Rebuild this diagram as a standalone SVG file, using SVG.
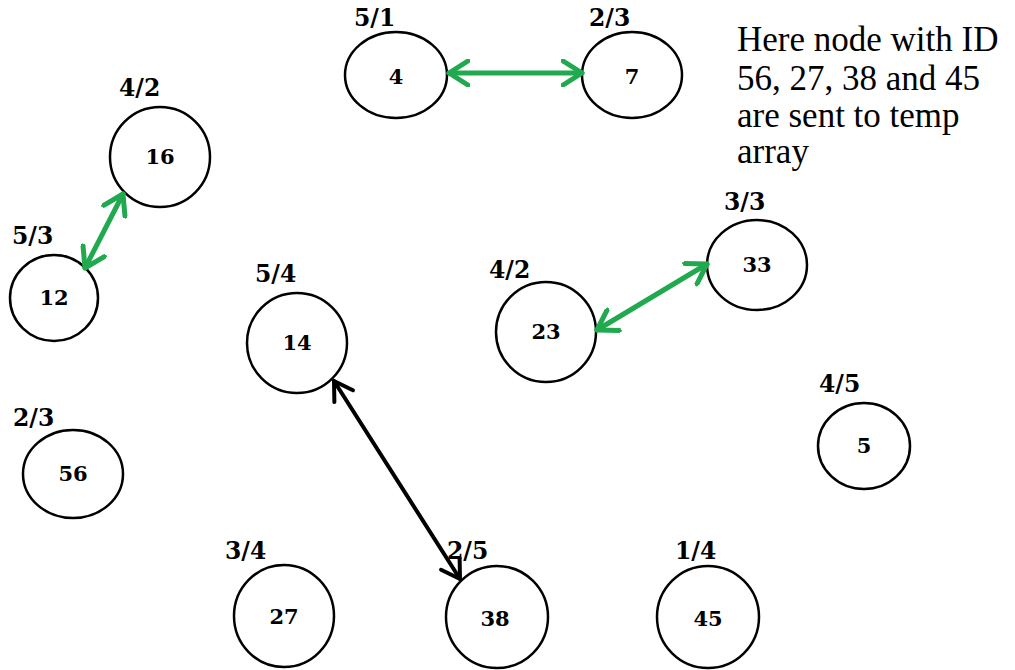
<svg xmlns="http://www.w3.org/2000/svg" width="1015" height="670" viewBox="0 0 1015 670">
<style>
.n ellipse{fill:#fff;stroke:#000;stroke-width:2.5}
.num{font-family:"DejaVu Serif","Liberation Serif",serif;font-weight:bold;font-size:21px;text-anchor:middle;fill:#000}
.lbl{font-family:"DejaVu Serif","Liberation Serif",serif;font-weight:bold;font-size:23.5px;fill:#000}
.note{font-family:"Liberation Serif",serif;font-size:35px;fill:#000}
.g{stroke:#21a94f;stroke-width:5;fill:none;stroke-linecap:round}
.k{stroke:#000;stroke-width:4;fill:none;stroke-linecap:round}
</style>
<defs>
<marker id="ag" viewBox="0 0 24 28" refX="21" refY="14" markerWidth="24" markerHeight="28" markerUnits="userSpaceOnUse" orient="auto-start-reverse">
<path d="M2,2 L21,14 L2,26" fill="none" stroke="#21a94f" stroke-width="5" stroke-linecap="round" stroke-linejoin="round"/>
</marker>
<marker id="ak" viewBox="0 0 24 28" refX="21" refY="14" markerWidth="24" markerHeight="28" markerUnits="userSpaceOnUse" orient="auto-start-reverse">
<path d="M3,3 L21,14 L3,25" fill="none" stroke="#000" stroke-width="4" stroke-linecap="round" stroke-linejoin="round"/>
</marker>
</defs>
<rect width="1015" height="670" fill="#fff"/>
<g id="n4" class="n"><ellipse cx="396" cy="75" rx="51" ry="43"/><text class="num" x="396" y="84">4</text><text class="lbl" x="354" y="26">5/1</text></g>
<g id="n7" class="n"><ellipse cx="632" cy="75" rx="50" ry="43"/><text class="num" x="632" y="84">7</text><text class="lbl" x="589" y="26">2/3</text></g>
<g id="n16" class="n"><ellipse cx="160" cy="157" rx="50" ry="50"/><text class="num" x="160" y="164">16</text><text class="lbl" x="119" y="96">4/2</text></g>
<g id="n12" class="n"><ellipse cx="54" cy="298" rx="44" ry="43"/><text class="num" x="54" y="305">12</text><text class="lbl" x="12" y="244">5/3</text></g>
<g id="n14" class="n"><ellipse cx="297" cy="343" rx="50" ry="50"/><text class="num" x="297" y="350">14</text><text class="lbl" x="255" y="282">5/4</text></g>
<g id="n23" class="n"><ellipse cx="546" cy="332" rx="50" ry="50"/><text class="num" x="546" y="339">23</text><text class="lbl" x="489" y="278">4/2</text></g>
<g id="n33" class="n"><ellipse cx="757" cy="265" rx="50" ry="45"/><text class="num" x="757" y="272">33</text><text class="lbl" x="724" y="210">3/3</text></g>
<g id="n56" class="n"><ellipse cx="73" cy="474" rx="50" ry="44"/><text class="num" x="73" y="481">56</text><text class="lbl" x="13" y="426">2/3</text></g>
<g id="n5" class="n"><ellipse cx="864" cy="446" rx="46" ry="43"/><text class="num" x="864" y="453">5</text><text class="lbl" x="819" y="392">4/5</text></g>
<g id="n27" class="n"><ellipse cx="284" cy="616" rx="50" ry="51"/><text class="num" x="284" y="624">27</text><text class="lbl" x="225" y="559">3/4</text></g>
<g id="n38" class="n"><ellipse cx="497" cy="617" rx="51" ry="51"/><text class="num" x="495" y="626">38</text><text class="lbl" x="447" y="559">2/5</text></g>
<g id="n45" class="n"><ellipse cx="708" cy="617" rx="51" ry="51"/><text class="num" x="708" y="626">45</text><text class="lbl" x="675" y="559">1/4</text></g>
<g id="connectors">
<line class="g" x1="449" y1="73" x2="582" y2="73" marker-start="url(#ag)" marker-end="url(#ag)"/>
<line class="g" x1="85" y1="268" x2="123" y2="194" marker-start="url(#ag)" marker-end="url(#ag)"/>
<line class="g" x1="597" y1="330" x2="707" y2="264" marker-start="url(#ag)" marker-end="url(#ag)"/>
<line class="k" x1="334" y1="381" x2="460" y2="579" marker-start="url(#ak)" marker-end="url(#ak)"/>
</g>
<g id="note">
<text class="note" x="737" y="51">Here node with ID</text>
<text class="note" x="737" y="90">56, 27, 38 and 45</text>
<text class="note" x="737" y="127">are sent to temp</text>
<text class="note" x="737" y="163">array</text>
</g>
</svg>
